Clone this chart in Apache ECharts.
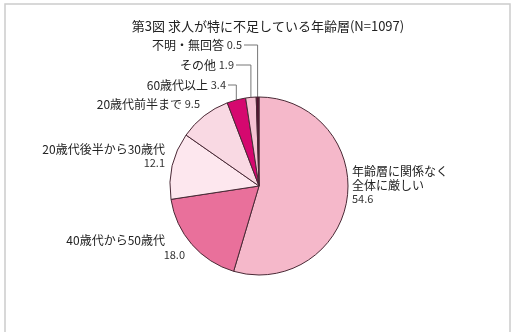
<!DOCTYPE html>
<html>
<head>
<meta charset="utf-8">
<script src="https://cdn.jsdelivr.net/npm/echarts@6/dist/echarts.min.js"></script>
<style>
  html, body { margin: 0; padding: 0; background: #fff; }
  #chart { width: 511px; height: 332px; }
</style>
</head>
<body>
<div id="chart"></div>
<script>
// 求人が特に不足している年齢層（N=1097）, 単位: %
const chartTitle = '第3図 求人が特に不足している年齢層(N=1097)';
const categories = [
  '年齢層に関係なく\n全体に厳しい',
  '40歳代から50歳代',
  '20歳代後半から30歳代',
  '20歳代前半まで',
  '60歳代以上',
  'その他',
  '不明・無回答'
];
const shares = [54.6, 18.0, 12.1, 9.5, 3.4, 1.9, 0.5];

const sliceColors = ['#f5b8ca', '#e9709b', '#fde7ee', '#f9d9e3', '#d5086f', '#f6c3d3', '#55122f'];

// where each label sits: anchor x, vertical centre y, alignment, leader line to the slice
const labelSpots = [
  { x: 352, y: 185, align: 'left',  leader: false },
  { x: 185, y: 247, align: 'right', leader: false },
  { x: 165, y: 156, align: 'right', leader: false },
  { x: 200, y: 104, align: 'right', leader: false },
  { x: 226, y: 85,  align: 'right', leader: true },
  { x: 234, y: 65,  align: 'right', leader: true },
  { x: 242, y: 45,  align: 'right', leader: true }
];

const chart = echarts.init(document.getElementById('chart'), null, { renderer: 'canvas' });

const font = '"Noto Sans CJK JP", "Noto Sans", sans-serif';

const data = categories.map((name, i) => ({
  name: name,
  value: shares[i],
  itemStyle: { color: sliceColors[i] },
  labelLine: { show: labelSpots[i].leader }
}));

function labelText(p) {
  const v = p.value.toFixed(1);
  const lines = p.name.split('\n');
  if (p.dataIndex === 1) return '{np|' + lines[0] + '}\n{v|' + v + '}';
  if (p.dataIndex < 3) return lines.map(l => '{n|' + l + '}').join('\n') + '\n{v|' + v + '}';
  return '{n|' + p.name + '} {v|' + v + '}';
}

chart.setOption({
  animation: false,
  backgroundColor: '#ffffff',
  title: {
    text: chartTitle,
    left: 263,
    top: 15,
    textAlign: 'center',
    textStyle: { fontFamily: font, fontSize: 13, fontWeight: 'normal', color: '#222' }
  },
  graphic: [{
    type: 'rect',
    shape: { x: 5, y: 4, width: 505, height: 332 },
    style: { fill: 'none', stroke: '#cccccc', lineWidth: 1.5 },
    silent: true
  }],
  series: [{
    type: 'pie',
    center: [259, 186],
    radius: 89,
    startAngle: 90,
    clockwise: true,
    avoidLabelOverlap: false,
    data: data,
    itemStyle: { borderColor: '#4a2a36', borderWidth: 1 },
    label: {
      show: true,
      position: 'outside',
      formatter: labelText,
      fontFamily: font,
      fontSize: 12,
      color: '#222',
      rich: {
        n:  { fontFamily: font, fontSize: 12, color: '#222', lineHeight: 14 },
        np: { fontFamily: font, fontSize: 12, color: '#222', lineHeight: 15, padding: [0, 20, 0, 0] },
        v:  { fontFamily: font, fontSize: 11, color: '#333', lineHeight: 14 }
      }
    },
    labelLine: {
      show: true,
      length: 6,
      length2: 6,
      lineStyle: { color: '#777', width: 1 }
    },
    labelLayout: function (params) {
      const s = labelSpots[params.dataIndex];
      const out = {
        x: s.x,
        y: s.y,
        align: s.align,
        verticalAlign: 'middle',
        hideOverlap: false,
        moveOverlap: false
      };
      if (s.leader && params.labelLinePoints) {
        const edge = params.labelLinePoints[0];
        out.labelLinePoints = [[s.x + 2, s.y], [edge[0], s.y], [edge[0], edge[1]]];
      }
      return out;
    },
    emphasis: { disabled: true }
  }]
});
</script>
</body>
</html>
